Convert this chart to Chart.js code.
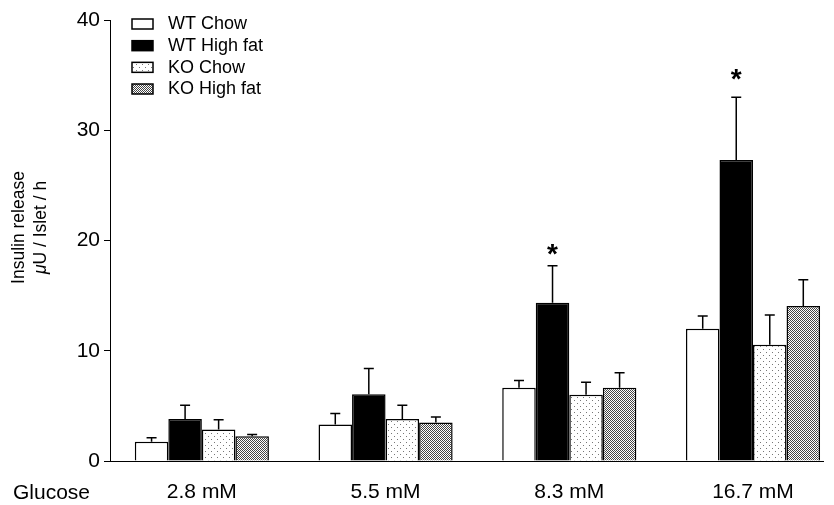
<!DOCTYPE html>
<html>
<head>
<meta charset="utf-8">
<script src="https://cdn.jsdelivr.net/npm/chart.js@4/dist/chart.umd.min.js"></script>
<style>
  html, body { margin: 0; padding: 0; background: #fff; overflow: hidden; }
  #wrap { width: 834px; height: 505px; }
</style>
</head>
<body>
<div id="wrap"><canvas id="c" width="834" height="505"></canvas></div>
<script>
// ---- data ----
const categories = ['2.8 mM', '5.5 mM', '8.3 mM', '16.7 mM'];
const seriesNames = ['WT Chow', 'WT High fat', 'KO Chow', 'KO High fat'];
const wtChow      = [1.75, 3.3, 6.65, 12.0];
const wtChowErr   = [0.35, 1.0, 0.65, 1.15];
const wtHighFat   = [3.8, 6.05, 14.35, 27.3];
const wtHighFatErr= [1.25, 2.35, 3.35, 5.7];
const koChow      = [2.85, 3.8, 6.0, 10.55];
const koChowErr   = [0.9, 1.25, 1.15, 2.7];
const koHighFat   = [2.25, 3.5, 6.65, 14.05];
const koHighFatErr= [0.15, 0.5, 1.35, 2.4];
const wtHighFatStars = [null, null, 19.4, 35.3]; // asterisk positions (y units)
const yTicks = [0, 10, 20, 30, 40];
const xTitle = 'Glucose';
const yTitle1 = 'Insulin release';
const yTitle2 = ['\u03bc', 'U / Islet / h'];

const FONT = '"Liberation Sans", Arial, Helvetica, sans-serif';
const AXIS_FONT_SIZE = 21;

function makePattern(size, dots, dotColor) {
  const c = document.createElement('canvas');
  c.width = size; c.height = size;
  const g = c.getContext('2d');
  g.fillStyle = '#fff'; g.fillRect(0, 0, size, size);
  g.fillStyle = dotColor;
  dots.forEach(d => g.fillRect(d[0], d[1], 1, 1));
  return g.createPattern(c, 'repeat');
}
const ctx = document.getElementById('c').getContext('2d');
const koChowFill = makePattern(6, [[1,1],[4,4]], '#777');
const koHFFill = makePattern(2, [[0,0],[1,1]], '#444');

const toPts = arr => arr.map((v, i) => ({ x: i, y: v }));
const fills = ['#ffffff', '#000000', koChowFill, koHFFill];
const values = [wtChow, wtHighFat, koChow, koHighFat];
const errors = [wtChowErr, wtHighFatErr, koChowErr, koHighFatErr];

const datasets = seriesNames.map((name, k) => ({
  label: name,
  data: toPts(values[k]),
  errors: errors[k],
  backgroundColor: fills[k],
  borderColor: '#000',
  borderWidth: 1.5,
  borderSkipped: 'bottom',
  categoryPercentage: 0.73,
  barPercentage: 1.0
}));
datasets[1].stars = wtHighFatStars;

const extras = {
  id: 'extras',
  afterDatasetsDraw(chart) {
    const c = chart.ctx;
    const ys = chart.scales.y;
    c.save();
    chart.data.datasets.forEach((ds, i) => {
      const meta = chart.getDatasetMeta(i);
      meta.data.forEach((bar, j) => {
        const v = ds.data[j].y, e = ds.errors[j];
        const y0 = ys.getPixelForValue(v);
        const y1 = ys.getPixelForValue(v + e);
        c.strokeStyle = '#000';
        c.lineWidth = 1.5;
        c.beginPath();
        c.moveTo(bar.x, y0);
        c.lineTo(bar.x, y1);
        c.moveTo(bar.x - 5, y1);
        c.lineTo(bar.x + 5, y1);
        c.stroke();
        if (ds.stars && ds.stars[j] != null) {
          const size = 28;
          c.fillStyle = '#000';
          c.font = 'bold ' + size + 'px ' + FONT;
          c.textAlign = 'center';
          c.textBaseline = 'alphabetic';
          c.fillText('*', bar.x, ys.getPixelForValue(ds.stars[j]) + 0.58 * size);
        }
      });
    });
    c.restore();
  },
  afterDraw(chart) {
    const c = chart.ctx;
    const area = chart.chartArea;
    c.save();
    // legend
    const lx = area.left + 22, ly0 = area.top + 4, step = 21.67;
    chart.data.datasets.forEach((ds, i) => {
      const y = ly0 + i * step;
      c.fillStyle = ds.backgroundColor;
      c.fillRect(lx, y - 5, 21, 10);
      c.strokeStyle = '#000';
      c.lineWidth = 1.5;
      c.strokeRect(lx, y - 5, 21, 10);
      c.fillStyle = '#000';
      c.font = '18px ' + FONT;
      c.textAlign = 'left';
      c.textBaseline = 'middle';
      c.fillText(ds.label, lx + 36, y + 0.5);
    });
    // "Glucose" x title
    c.font = AXIS_FONT_SIZE + 'px ' + FONT;
    c.textAlign = 'left';
    c.textBaseline = 'middle';
    c.fillText(xTitle, 13, 493);
    // y title, two rotated lines
    const cy = (area.top + area.bottom) / 2 - 13;
    c.save();
    c.translate(19, cy);
    c.rotate(-Math.PI / 2);
    c.textAlign = 'center';
    c.textBaseline = 'middle';
    c.font = '17.5px ' + FONT;
    c.fillText(yTitle1, 0, 0);
    c.restore();
    c.save();
    c.translate(41, cy);
    c.rotate(-Math.PI / 2);
    c.textBaseline = 'middle';
    c.textAlign = 'left';
    c.font = 'italic 17.5px ' + FONT;
    const w1 = c.measureText(yTitle2[0]).width;
    c.font = '17.5px ' + FONT;
    const w2 = c.measureText(yTitle2[1]).width;
    const start = -(w1 + w2) / 2;
    c.font = 'italic 17.5px ' + FONT;
    c.fillText(yTitle2[0], start, 0);
    c.font = '17.5px ' + FONT;
    c.fillText(yTitle2[1], start + w1, 0);
    c.restore();
    c.restore();
  }
};

new Chart(ctx, {
  type: 'bar',
  data: { datasets },
  options: {
    responsive: false,
    animation: false,
    events: [],
    layout: { padding: { left: 0, top: 20, right: 11, bottom: 0 } },
    plugins: { legend: { display: false }, tooltip: { enabled: false } },
    scales: {
      x: {
        type: 'linear',
        offset: false,
        min: -0.5,
        max: 3.381,
        afterBuildTicks: s => { s.ticks = categories.map((_, i) => ({ value: i })); },
        afterFit: s => { s.height = 44; },
        ticks: {
          autoSkip: false,
          maxRotation: 0,
          padding: 19,
          color: '#000',
          font: { family: FONT, size: AXIS_FONT_SIZE },
          callback: v => categories[v]
        },
        grid: { display: true, offset: false, drawOnChartArea: false, drawTicks: false, color: 'rgba(0,0,0,0)' },
        border: { display: true, color: '#000', width: 1 }
      },
      y: {
        min: 0,
        max: 40,
        afterBuildTicks: s => { s.ticks = yTicks.map(v => ({ value: v })); },
        afterFit: s => { s.width = 110; },
        ticks: {
          padding: 4,
          color: '#000',
          font: { family: FONT, size: AXIS_FONT_SIZE }
        },
        grid: { display: true, drawOnChartArea: false, drawTicks: true, tickLength: 6, color: '#000', lineWidth: 1 },
        border: { display: true, color: '#000', width: 1 }
      }
    }
  },
  plugins: [extras]
});
</script>
</body>
</html>
